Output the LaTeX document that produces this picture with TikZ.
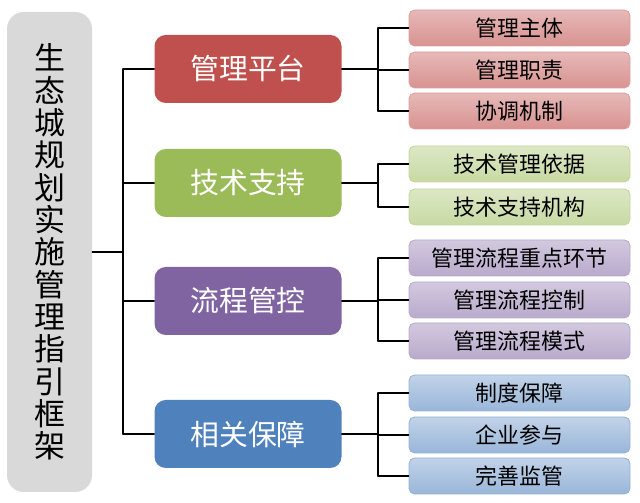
\documentclass[tikz,border=0pt]{standalone}
\usepackage{fontspec}
\setmainfont{Noto Sans CJK SC}
\usetikzlibrary{positioning}

\definecolor{rootgray}{HTML}{D9D9D9}
\definecolor{redmain}{HTML}{C0504D}
\definecolor{greenmain}{HTML}{9BBB59}
\definecolor{purplemain}{HTML}{8064A2}
\definecolor{bluemain}{HTML}{4F81BD}

\tikzset{
  mainbox/.style={rounded corners=8pt, minimum width=187*0.025cm, minimum height=68*0.025cm,
    text=white, font=\fontsize{20.5pt}{22pt}\selectfont, inner sep=0pt},
  subbox/.style={rounded corners=4pt, minimum width=221*0.025cm, minimum height=36*0.025cm,
    font=\fontsize{15.6pt}{17pt}\selectfont, inner sep=0pt, line width=0.6pt},
  subred/.style={subbox, draw=redmain!55, top color=redmain!40, bottom color=redmain!62},
  subgreen/.style={subbox, draw=greenmain!60, top color=greenmain!35, bottom color=greenmain!55},
  subpurple/.style={subbox, draw=purplemain!55, top color=purplemain!35, bottom color=purplemain!55},
  subblue/.style={subbox, draw=bluemain!60, top color=bluemain!35, bottom color=bluemain!58},
  link/.style={line width=1pt, black}
}

\begin{document}
\begin{tikzpicture}[x=0.025cm, y=-0.025cm, line cap=round, line join=round]
  \useasboundingbox (0,0) rectangle (640,503);

  % Root
  \node[fill=rootgray, rounded corners=12pt, minimum width=85*0.025cm, minimum height=480*0.025cm,
    inner sep=0pt, align=center, font=\fontsize{22pt}{23pt}\selectfont] (root) at (49.5,252)
    {生\\态\\城\\规\\划\\实\\施\\管\\理\\指\\引\\框\\架};

  % Level one
  \node[mainbox, fill=redmain] (plat) at (248,69) {管理平台};
  \node[mainbox, fill=greenmain] (tech) at (248,183) {技术支持};
  \node[mainbox, fill=purplemain] (flow) at (248,301) {流程管控};
  \node[mainbox, fill=bluemain] (safe) at (248,434) {相关保障};

  % Level two
  \node[subred] (platA) at (519.5,28) {管理主体};
  \node[subred] (platB) at (519.5,70) {管理职责};
  \node[subred] (platC) at (519.5,111) {协调机制};

  \node[subgreen] (techA) at (519.5,164) {技术管理依据};
  \node[subgreen] (techB) at (519.5,207) {技术支持机构};

  \node[subpurple] (flowA) at (519.5,258) {管理流程重点环节};
  \node[subpurple] (flowB) at (519.5,300) {管理流程控制};
  \node[subpurple] (flowC) at (519.5,341) {管理流程模式};

  \node[subblue] (safeA) at (519.5,393) {制度保障};
  \node[subblue] (safeB) at (519.5,435) {企业参与};
  \node[subblue] (safeC) at (519.5,476) {完善监管};

  % Connectors
  \coordinate (hub) at (123,252);
  \draw[link] (root.east) -- (hub);
  \draw[link] (hub |- plat.west) -- (hub |- safe.west);
  \draw[link] (hub |- plat.west) -- (plat.west);
  \draw[link] (hub |- tech.west) -- (tech.west);
  \draw[link] (hub |- flow.west) -- (flow.west);
  \draw[link] (hub |- safe.west) -- (safe.west);

  \coordinate (hubB) at (378,0);
  \draw[link] (plat.east) -- (hubB |- plat.east);
  \draw[link] (hubB |- platA.west) -- (hubB |- platC.west);
  \draw[link] (hubB |- platA.west) -- (platA.west);
  \draw[link] (hubB |- platB.west) -- (platB.west);
  \draw[link] (hubB |- platC.west) -- (platC.west);

  \draw[link] (tech.east) -- (hubB |- tech.east);
  \draw[link] (hubB |- techA.west) -- (hubB |- techB.west);
  \draw[link] (hubB |- techA.west) -- (techA.west);
  \draw[link] (hubB |- techB.west) -- (techB.west);

  \draw[link] (flow.east) -- (hubB |- flow.east);
  \draw[link] (hubB |- flowA.west) -- (hubB |- flowC.west);
  \draw[link] (hubB |- flowA.west) -- (flowA.west);
  \draw[link] (hubB |- flowB.west) -- (flowB.west);
  \draw[link] (hubB |- flowC.west) -- (flowC.west);

  \draw[link] (safe.east) -- (hubB |- safe.east);
  \draw[link] (hubB |- safeA.west) -- (hubB |- safeC.west);
  \draw[link] (hubB |- safeA.west) -- (safeA.west);
  \draw[link] (hubB |- safeB.west) -- (safeB.west);
  \draw[link] (hubB |- safeC.west) -- (safeC.west);
\end{tikzpicture}
\end{document}
